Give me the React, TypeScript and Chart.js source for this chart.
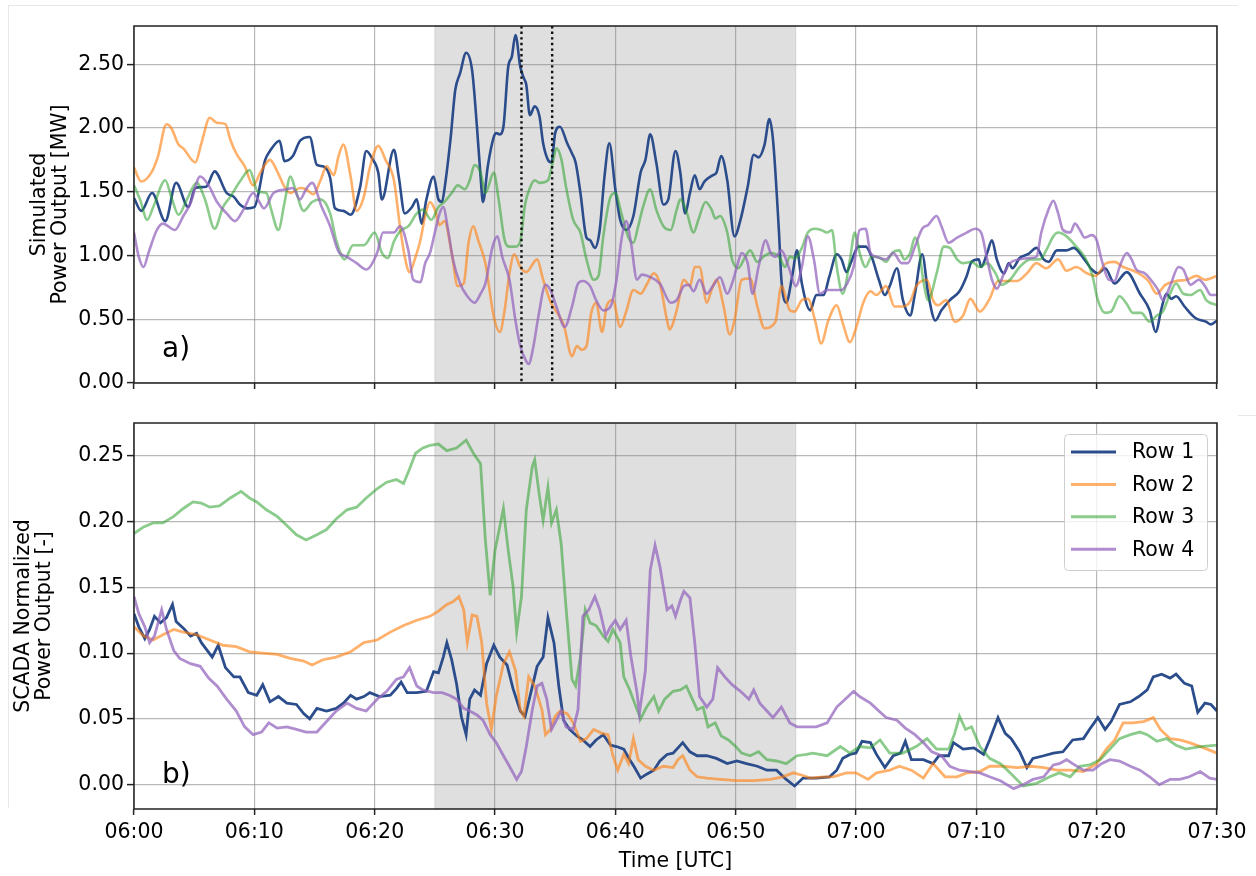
import React, { useEffect, useRef } from 'react';
import { Chart, registerables } from 'chart.js';

Chart.register(...registerables);

type Pt = [number, number]; // [minutes after 06:00, value]

// ---------- axis definitions ----------
const xTickMinutes = [0, 10, 20, 30, 40, 50, 60, 70, 80, 90];
const xTickLabels = ['06:00', '06:10', '06:20', '06:30', '06:40', '06:50', '07:00', '07:10', '07:20', '07:30'];
const simTicks = [0, 0.5, 1.0, 1.5, 2.0, 2.5];
const scadaTicks = [0, 0.05, 0.1, 0.15, 0.2, 0.25];
const simRange = [0, 2.8];
const scadaRange = [-0.0185, 0.275];
const shadeWindow = [25, 55];
const markerTimes = [32.2, 34.75];
const seriesNames = ['Row 1', 'Row 2', 'Row 3', 'Row 4'];

// ---------- panel a) simulated power output [MW] ----------
const row1Sim: Pt[] = [
  [0, 1.45], [0.6, 1.35], [1.5, 1.49], [2.6, 1.27], [3.5, 1.57], [4.5, 1.38], [5.1, 1.53], [6.0, 1.54], [6.7, 1.66], [7.7, 1.49],
  [8.3, 1.46], [8.8, 1.40], [9.4, 1.37], [10.0, 1.38], [10.9, 1.75], [11.3, 1.82], [12.1, 1.90], [12.5, 1.74], [13.2, 1.78], [13.8, 1.90],
  [14.6, 1.93], [15.2, 1.71], [15.7, 1.70], [16.3, 1.61], [16.7, 1.37], [17.4, 1.35], [18.0, 1.32], [18.8, 1.54], [19.3, 1.82], [19.8, 1.76],
  [20.3, 1.65], [20.6, 1.44], [21.6, 1.83], [22.0, 1.62], [22.5, 1.33], [23.1, 1.38], [23.5, 1.44], [23.9, 1.25], [24.3, 1.44], [24.9, 1.62],
  [25.3, 1.44], [25.6, 1.42], [25.8, 1.52], [26.3, 1.91], [26.7, 2.30], [27.1, 2.43], [27.6, 2.59], [28.1, 2.45], [28.5, 2.01], [28.8, 1.62],
  [29.0, 1.42], [29.4, 1.70], [29.9, 1.93], [30.1, 1.96], [30.4, 1.95], [30.7, 2.01], [31.1, 2.48], [31.4, 2.56], [31.7, 2.73], [32.1, 2.48],
  [32.4, 2.39], [32.6, 2.34], [32.9, 2.10], [33.3, 2.17], [33.7, 2.09], [34.0, 1.88], [34.4, 1.75], [34.7, 1.73], [35.0, 1.96], [35.4, 2.01],
  [36.0, 1.88], [36.4, 1.80], [36.7, 1.73], [37.1, 1.49], [37.6, 1.14], [37.9, 1.12], [38.3, 1.06], [38.7, 1.20], [39.1, 1.62], [39.5, 1.88],
  [40.0, 1.52], [40.4, 1.28], [40.9, 1.20], [41.5, 1.31], [42.1, 1.65], [42.5, 1.75], [42.9, 1.95], [43.4, 1.73], [44.0, 1.40], [44.4, 1.44],
  [45.0, 1.82], [45.4, 1.65], [45.8, 1.33], [46.2, 1.49], [46.6, 1.63], [47.0, 1.52], [47.4, 1.58], [48.1, 1.63], [48.4, 1.65], [48.8, 1.78],
  [49.3, 1.59], [49.9, 1.15], [50.4, 1.28], [51.0, 1.54], [51.5, 1.79], [51.9, 1.77], [52.4, 1.87], [52.8, 2.07], [53.1, 1.91], [53.6, 1.18],
  [53.8, 0.81], [54.2, 0.63], [54.7, 0.84], [55.1, 1.04], [55.5, 0.78], [56.2, 0.57], [56.7, 0.69], [57.3, 0.69], [57.8, 0.84], [58.4, 1.01],
  [58.8, 0.97], [59.2, 0.87], [59.6, 0.95], [60.2, 1.07], [60.8, 1.07], [61.3, 0.99], [61.9, 0.81], [62.4, 0.69], [62.8, 0.76], [63.4, 0.90],
  [63.9, 0.65], [64.5, 0.53], [64.9, 0.70], [65.5, 1.01], [66.0, 0.70], [66.6, 0.49], [67.1, 0.57], [67.8, 0.65], [68.6, 0.72], [69.2, 0.84],
  [69.6, 0.95], [70.2, 0.97], [70.4, 0.91], [70.9, 1.02], [71.3, 1.12], [71.7, 0.97], [72.3, 0.86], [72.7, 0.94], [73.0, 0.90], [73.6, 0.98],
  [74.3, 1.01], [75.0, 1.06], [75.6, 0.97], [76.0, 0.95], [76.7, 1.04], [77.5, 1.04], [78.1, 1.06], [78.9, 0.98], [79.6, 0.89], [80.1, 0.86],
  [80.7, 0.90], [81.5, 0.78], [82.5, 0.87], [83.6, 0.70], [84.4, 0.57], [84.9, 0.40], [85.4, 0.59], [85.8, 0.70], [86.2, 0.66], [86.6, 0.68],
  [87.3, 0.60], [88.2, 0.51], [89.1, 0.48], [89.5, 0.46], [90, 0.49],
];

const row2Sim: Pt[] = [
  [0, 1.69], [0.6, 1.58], [1.5, 1.66], [2.0, 1.78], [2.7, 2.03], [3.1, 2.00], [3.7, 1.87], [4.1, 1.84], [5.1, 1.73], [5.6, 1.88],
  [6.3, 2.08], [6.9, 2.04], [7.6, 2.03], [8.0, 1.91], [8.5, 1.80], [9.2, 1.70], [9.9, 1.55], [10.5, 1.65], [11.3, 1.75], [11.9, 1.66],
  [12.5, 1.54], [13.0, 1.49], [13.8, 1.53], [14.3, 1.52], [14.9, 1.48], [15.5, 1.59], [16.0, 1.70], [16.6, 1.63], [17.0, 1.78], [17.4, 1.87],
  [18.0, 1.62], [18.5, 1.35], [19.1, 1.46], [19.6, 1.69], [20.3, 1.86], [20.9, 1.75], [21.6, 1.59], [22.1, 1.23], [22.5, 0.99], [22.9, 0.87],
  [23.4, 0.99], [23.8, 1.12], [24.2, 1.31], [24.6, 1.42], [25.0, 1.36], [25.4, 1.24], [25.8, 1.27], [26.4, 1.02], [26.9, 0.76], [27.4, 0.78],
  [27.8, 1.10], [28.2, 1.23], [28.6, 1.12], [29.2, 0.94], [29.9, 0.52], [30.4, 0.40], [30.8, 0.57], [31.2, 0.86], [31.6, 1.01], [32.1, 0.91],
  [32.6, 0.87], [33.5, 0.97], [34.0, 0.81], [34.6, 0.64], [35.1, 0.56], [35.7, 0.46], [36.4, 0.21], [36.8, 0.29], [37.2, 0.26], [37.6, 0.29],
  [38.0, 0.55], [38.4, 0.63], [38.9, 0.40], [39.3, 0.61], [39.8, 0.65], [40.4, 0.44], [40.9, 0.56], [41.5, 0.73], [42.1, 0.70], [42.6, 0.77],
  [43.2, 0.86], [43.7, 0.78], [44.3, 0.49], [44.5, 0.42], [45.1, 0.57], [45.7, 0.81], [46.2, 0.76], [46.6, 0.91], [47.0, 0.91], [47.6, 0.63],
  [48.0, 0.73], [48.4, 0.81], [49.0, 0.60], [49.5, 0.38], [49.9, 0.49], [50.5, 0.81], [51.2, 0.82], [51.8, 0.60], [52.4, 0.43], [53.3, 0.48],
  [53.8, 0.76], [54.5, 0.57], [54.9, 0.56], [55.5, 0.65], [56.0, 0.66], [56.6, 0.49], [57.1, 0.31], [57.7, 0.49], [58.4, 0.61], [58.9, 0.47],
  [59.5, 0.32], [60.0, 0.43], [60.6, 0.63], [61.2, 0.72], [61.7, 0.69], [62.5, 0.76], [63.2, 0.60], [63.9, 0.60], [64.5, 0.64], [65.0, 0.76],
  [65.9, 0.81], [66.4, 0.65], [66.8, 0.61], [67.5, 0.65], [68.2, 0.48], [68.9, 0.53], [69.5, 0.66], [70.3, 0.56], [71.1, 0.66], [71.8, 0.80],
  [72.5, 0.80], [73.4, 0.80], [74.2, 0.86], [75.0, 0.94], [75.8, 0.90], [76.8, 0.97], [77.5, 0.88], [78.3, 0.91], [79.2, 0.86], [79.9, 0.84],
  [80.8, 0.94], [81.5, 0.95], [82.2, 0.91], [83.3, 0.87], [84.3, 0.80], [85.0, 0.70], [85.7, 0.77], [86.6, 0.80], [87.5, 0.81], [88.3, 0.84],
  [89.0, 0.81], [90, 0.84],
];

const row3Sim: Pt[] = [
  [0, 1.55], [0.5, 1.44], [1.1, 1.28], [1.6, 1.38], [2.6, 1.59], [3.1, 1.46], [3.7, 1.32], [4.4, 1.44], [5.2, 1.57], [5.9, 1.44],
  [6.7, 1.21], [7.4, 1.38], [8.0, 1.46], [8.8, 1.58], [9.6, 1.67], [10.3, 1.50], [11.0, 1.49], [11.4, 1.36], [12.0, 1.20], [12.5, 1.41],
  [13.0, 1.62], [13.4, 1.52], [14.1, 1.35], [14.8, 1.42], [15.5, 1.44], [16.3, 1.33], [16.8, 1.12], [17.5, 0.97], [18.2, 1.08], [19.1, 1.08],
  [20.0, 1.18], [20.6, 1.02], [21.1, 0.98], [21.6, 1.11], [22.1, 1.19], [22.8, 1.23], [23.5, 1.33], [24.0, 1.36], [24.7, 1.28], [25.3, 1.38],
  [25.8, 1.42], [26.4, 1.49], [26.9, 1.55], [27.5, 1.52], [27.9, 1.59], [28.3, 1.71], [28.8, 1.65], [29.2, 1.49], [29.9, 1.65], [30.3, 1.44],
  [30.8, 1.12], [31.2, 1.07], [31.7, 1.07], [32.1, 1.11], [32.5, 1.40], [32.9, 1.53], [33.3, 1.59], [33.7, 1.57], [34.4, 1.59], [34.8, 1.73],
  [35.1, 1.84], [35.5, 1.76], [35.9, 1.54], [36.5, 1.28], [37.1, 1.18], [37.6, 0.97], [38.2, 0.81], [38.6, 0.84], [39.0, 1.15], [39.6, 1.46],
  [40.0, 1.49], [40.5, 1.33], [41.1, 1.14], [41.5, 1.10], [41.9, 1.23], [42.3, 1.38], [42.9, 1.52], [43.4, 1.36], [44.0, 1.23], [44.6, 1.20],
  [45.1, 1.36], [45.4, 1.44], [45.9, 1.35], [46.5, 1.18], [46.9, 1.28], [47.5, 1.42], [48.0, 1.36], [48.3, 1.29], [48.7, 1.31], [49.3, 1.18],
  [49.7, 0.97], [50.2, 0.90], [50.8, 0.99], [51.2, 1.04], [51.8, 0.95], [52.3, 0.99], [52.9, 1.02], [53.6, 0.99], [54.1, 0.91], [54.5, 0.99],
  [55.0, 0.98], [55.5, 1.06], [56.0, 1.18], [56.6, 1.21], [57.1, 1.20], [57.6, 1.18], [58.0, 1.20], [58.4, 0.91], [58.9, 0.70], [59.5, 0.97],
  [59.9, 1.18], [60.3, 1.02], [60.8, 0.91], [61.3, 0.99], [62.0, 0.98], [62.5, 0.95], [63.0, 1.02], [63.6, 1.04], [64.0, 0.97], [64.5, 1.02],
  [64.9, 1.14], [65.2, 1.07], [65.6, 0.80], [66.0, 0.65], [66.7, 0.86], [67.3, 1.07], [67.8, 1.06], [68.4, 0.97], [68.9, 0.94], [69.6, 0.95],
  [70.3, 0.91], [70.9, 0.94], [71.6, 0.86], [72.1, 0.77], [72.8, 0.81], [73.6, 0.91], [74.5, 0.97], [75.3, 0.97], [75.8, 1.04], [76.4, 1.15],
  [76.8, 1.18], [77.5, 1.15], [78.3, 1.07], [79.0, 0.99], [79.6, 0.86], [80.1, 0.65], [80.7, 0.55], [81.2, 0.56], [81.9, 0.68], [82.5, 0.62],
  [83.0, 0.55], [83.7, 0.55], [84.4, 0.48], [85.0, 0.53], [85.5, 0.56], [86.1, 0.70], [86.6, 0.78], [87.2, 0.70], [87.8, 0.69], [88.6, 0.73],
  [89.1, 0.65], [90, 0.61],
];

const row4Sim: Pt[] = [
  [0, 1.18], [0.4, 0.99], [0.8, 0.91], [1.2, 1.02], [1.9, 1.20], [2.4, 1.25], [3.4, 1.20], [4.1, 1.31], [4.7, 1.41], [5.5, 1.62],
  [6.2, 1.55], [6.9, 1.42], [7.7, 1.33], [8.4, 1.27], [9.1, 1.36], [9.9, 1.49], [10.3, 1.44], [10.8, 1.37], [11.6, 1.49], [12.7, 1.52],
  [13.2, 1.53], [13.8, 1.44], [14.3, 1.52], [14.8, 1.57], [15.6, 1.38], [16.3, 1.23], [17.0, 1.03], [17.7, 0.99], [18.5, 0.94], [19.3, 0.89],
  [20.2, 1.02], [20.7, 1.18], [21.6, 1.18], [22.1, 1.23], [22.8, 1.04], [23.2, 0.81], [23.8, 0.79], [24.2, 0.94], [24.6, 1.02], [25.0, 1.18],
  [25.4, 1.33], [25.7, 1.38], [26.1, 1.20], [26.5, 0.97], [27.1, 0.78], [27.7, 0.68], [28.3, 0.63], [28.8, 0.70], [29.2, 0.78], [29.8, 1.07],
  [30.2, 1.15], [30.6, 0.99], [31.2, 0.81], [31.7, 0.49], [32.1, 0.29], [32.5, 0.19], [32.8, 0.15], [33.2, 0.29], [33.6, 0.52], [34.2, 0.77],
  [34.6, 0.73], [35.1, 0.60], [35.8, 0.44], [36.4, 0.60], [36.9, 0.78], [37.3, 0.80], [37.9, 0.76], [38.4, 0.65], [39.0, 0.57], [39.6, 0.60],
  [40.1, 0.81], [40.5, 1.12], [40.9, 1.27], [41.3, 1.10], [41.8, 0.81], [42.2, 0.85], [42.9, 0.83], [43.7, 0.78], [44.6, 0.63], [45.1, 0.65],
  [45.7, 0.76], [46.1, 0.77], [46.5, 0.72], [47.0, 0.81], [47.6, 0.70], [48.1, 0.76], [48.7, 0.83], [49.3, 0.70], [49.7, 0.78], [50.1, 0.91],
  [50.5, 1.02], [51.0, 0.94], [51.4, 0.70], [51.9, 0.91], [52.5, 1.12], [52.9, 1.02], [53.3, 0.99], [53.8, 1.04], [54.4, 0.91], [55.0, 0.76],
  [55.5, 0.91], [56.0, 1.15], [56.5, 0.97], [57.0, 0.70], [57.6, 0.73], [58.3, 0.73], [58.8, 0.73], [59.2, 0.77], [59.8, 0.91], [60.3, 1.20],
  [60.8, 1.21], [61.2, 1.02], [61.7, 0.99], [62.5, 0.97], [63.1, 1.02], [63.8, 0.94], [64.3, 0.94], [64.9, 1.07], [65.5, 1.21], [66.0, 1.24],
  [66.7, 1.31], [67.1, 1.23], [67.7, 1.10], [68.4, 1.14], [69.2, 1.18], [69.9, 1.21], [70.4, 1.18], [70.9, 0.97], [71.3, 0.81], [71.7, 0.74],
  [72.3, 0.86], [72.8, 0.94], [73.6, 0.97], [74.5, 0.98], [75.0, 0.99], [75.4, 1.18], [76.0, 1.36], [76.4, 1.43], [76.8, 1.33], [77.2, 1.20],
  [77.8, 1.18], [78.2, 1.25], [78.6, 1.20], [79.0, 1.14], [79.6, 1.16], [80.0, 1.12], [80.4, 0.97], [81.0, 0.81], [81.5, 0.80], [81.9, 0.91],
  [82.5, 1.02], [82.9, 0.97], [83.3, 0.89], [84.0, 0.86], [84.5, 0.81], [85.1, 0.73], [85.5, 0.65], [86.1, 0.76], [86.8, 0.91], [87.2, 0.89],
  [87.8, 0.77], [88.5, 0.81], [89.0, 0.76], [89.5, 0.69], [90, 0.69],
];

// ---------- panel b) SCADA normalized power output [-] ----------
const row1Scada: Pt[] = [
  [0, 0.130], [0.4, 0.120], [0.9, 0.111], [1.3, 0.118], [1.7, 0.128], [2.2, 0.123], [2.7, 0.127], [3.2, 0.137], [3.5, 0.124], [4.1, 0.119],
  [4.7, 0.113], [5.2, 0.115], [5.6, 0.108], [6.5, 0.097], [7.0, 0.106], [7.6, 0.089], [8.3, 0.082], [8.8, 0.082], [9.5, 0.070], [10.2, 0.068],
  [10.7, 0.076], [11.3, 0.063], [12.0, 0.067], [12.7, 0.062], [13.5, 0.061], [14.1, 0.054], [14.6, 0.050], [15.2, 0.058], [16.0, 0.056], [16.8, 0.058],
  [17.4, 0.062], [18.0, 0.068], [18.5, 0.065], [19.1, 0.067], [19.6, 0.070], [20.4, 0.067], [21.3, 0.068], [21.8, 0.073], [22.2, 0.078], [22.7, 0.070],
  [23.5, 0.070], [24.3, 0.071], [24.9, 0.086], [25.3, 0.085], [25.7, 0.097], [26.0, 0.108], [26.4, 0.095], [26.8, 0.077], [27.2, 0.052], [27.6, 0.038],
  [27.9, 0.065], [28.3, 0.072], [28.8, 0.068], [29.3, 0.092], [29.9, 0.106], [30.4, 0.097], [31.0, 0.091], [31.5, 0.073], [32.1, 0.056], [32.5, 0.052],
  [32.9, 0.067], [33.5, 0.090], [34.0, 0.097], [34.4, 0.127], [34.9, 0.108], [35.3, 0.075], [35.7, 0.049], [36.2, 0.042], [36.8, 0.037], [37.3, 0.034],
  [37.9, 0.029], [38.4, 0.034], [39.0, 0.038], [39.6, 0.030], [40.1, 0.029], [40.7, 0.027], [41.2, 0.019], [41.6, 0.013], [42.1, 0.005], [42.6, 0.008],
  [43.2, 0.011], [43.7, 0.018], [44.3, 0.023], [44.8, 0.024], [45.6, 0.032], [46.2, 0.025], [46.8, 0.022], [47.6, 0.022], [48.4, 0.020], [49.3, 0.016],
  [50.1, 0.018], [50.9, 0.016], [51.8, 0.014], [52.6, 0.011], [53.4, 0.011], [54.2, 0.004], [54.9, -0.001], [55.6, 0.005], [56.7, 0.005], [57.8, 0.006],
  [58.4, 0.011], [58.9, 0.020], [59.5, 0.023], [60.0, 0.024], [60.5, 0.033], [61.2, 0.032], [61.7, 0.023], [62.4, 0.013], [63.1, 0.022], [63.7, 0.024],
  [64.1, 0.033], [64.6, 0.019], [65.6, 0.019], [66.4, 0.016], [66.9, 0.022], [67.7, 0.022], [68.1, 0.032], [68.9, 0.027], [69.8, 0.028], [70.6, 0.023],
  [71.1, 0.034], [71.8, 0.051], [72.4, 0.039], [72.9, 0.035], [73.6, 0.025], [74.2, 0.013], [74.7, 0.020], [75.6, 0.022], [76.4, 0.024], [77.2, 0.025],
  [78.0, 0.034], [78.9, 0.035], [79.4, 0.042], [80.1, 0.051], [80.7, 0.042], [81.2, 0.048], [81.9, 0.061], [82.8, 0.063], [83.5, 0.067], [84.2, 0.072],
  [84.7, 0.082], [85.4, 0.084], [86.1, 0.081], [86.6, 0.084], [87.3, 0.077], [87.9, 0.075], [88.4, 0.055], [89.0, 0.062], [89.5, 0.061], [90, 0.056],
];

const row2Scada: Pt[] = [
  [0, 0.120], [0.8, 0.113], [1.6, 0.110], [2.4, 0.114], [3.3, 0.118], [4.1, 0.116], [5.2, 0.114], [6.3, 0.110], [7.4, 0.106], [8.5, 0.105],
  [9.6, 0.101], [10.7, 0.100], [11.9, 0.099], [13.0, 0.096], [14.1, 0.094], [14.8, 0.091], [15.7, 0.095], [16.8, 0.097], [18.0, 0.101], [19.1, 0.108],
  [20.2, 0.110], [21.3, 0.116], [22.4, 0.121], [23.5, 0.125], [24.6, 0.128], [25.3, 0.132], [26.0, 0.137], [26.5, 0.139], [27.0, 0.143], [27.4, 0.133],
  [27.7, 0.108], [28.1, 0.129], [28.5, 0.128], [28.9, 0.108], [29.3, 0.062], [29.7, 0.042], [30.1, 0.067], [30.7, 0.092], [31.2, 0.101], [31.7, 0.087],
  [32.1, 0.057], [32.4, 0.052], [32.8, 0.082], [33.3, 0.075], [33.9, 0.057], [34.2, 0.038], [34.6, 0.042], [35.0, 0.052], [35.4, 0.056], [36.0, 0.054],
  [36.5, 0.047], [37.1, 0.033], [37.6, 0.035], [38.2, 0.042], [38.9, 0.039], [39.4, 0.038], [39.8, 0.022], [40.2, 0.011], [40.7, 0.023], [41.1, 0.016],
  [41.5, 0.035], [41.9, 0.019], [42.5, 0.014], [43.2, 0.011], [44.0, 0.014], [44.8, 0.013], [45.2, 0.019], [45.6, 0.022], [46.2, 0.011], [46.8, 0.006],
  [47.6, 0.005], [48.7, 0.004], [50.1, 0.003], [51.5, 0.003], [52.9, 0.004], [53.9, 0.006], [54.8, 0.009], [55.6, 0.007], [56.2, 0.005], [57.3, 0.006],
  [58.1, 0.006], [59.2, 0.009], [60.0, 0.009], [61.0, 0.004], [61.7, 0.009], [62.8, 0.011], [63.6, 0.014], [64.6, 0.011], [65.6, 0.005], [66.4, 0.016],
  [67.4, 0.006], [68.4, 0.006], [69.2, 0.009], [70.3, 0.010], [71.1, 0.014], [72.2, 0.014], [73.4, 0.013], [74.5, 0.014], [75.6, 0.013], [76.7, 0.011],
  [77.8, 0.011], [78.9, 0.010], [80.0, 0.016], [80.8, 0.027], [81.5, 0.034], [82.2, 0.047], [83.0, 0.047], [83.9, 0.048], [84.7, 0.051], [85.3, 0.042],
  [86.1, 0.035], [86.9, 0.034], [87.7, 0.032], [88.9, 0.028], [90, 0.024],
];

const row3Scada: Pt[] = [
  [0, 0.191], [0.8, 0.196], [1.6, 0.199], [2.4, 0.199], [3.3, 0.204], [4.1, 0.210], [4.9, 0.215], [5.6, 0.214], [6.3, 0.211], [7.1, 0.212],
  [8.0, 0.218], [8.9, 0.223], [9.6, 0.218], [10.2, 0.215], [11.0, 0.209], [11.9, 0.204], [12.7, 0.197], [13.5, 0.190], [14.3, 0.186], [15.2, 0.190],
  [16.0, 0.194], [16.8, 0.202], [17.7, 0.209], [18.5, 0.211], [19.3, 0.218], [20.2, 0.225], [21.0, 0.230], [21.8, 0.232], [22.4, 0.229], [22.9, 0.240],
  [23.4, 0.252], [24.0, 0.256], [24.6, 0.258], [25.3, 0.259], [26.0, 0.254], [26.8, 0.256], [27.6, 0.262], [28.2, 0.252], [28.8, 0.244], [29.2, 0.186],
  [29.6, 0.144], [30.0, 0.178], [30.7, 0.210], [31.1, 0.178], [31.5, 0.151], [31.8, 0.116], [32.2, 0.143], [32.6, 0.209], [33.1, 0.242], [33.3, 0.247],
  [33.7, 0.219], [34.0, 0.201], [34.4, 0.226], [34.7, 0.199], [35.1, 0.209], [35.5, 0.183], [35.9, 0.135], [36.4, 0.080], [36.7, 0.075], [37.1, 0.097],
  [37.5, 0.133], [37.9, 0.123], [38.4, 0.121], [39.0, 0.113], [39.4, 0.109], [39.8, 0.118], [40.4, 0.108], [40.7, 0.082], [41.2, 0.072], [41.6, 0.062],
  [42.1, 0.050], [42.6, 0.059], [43.2, 0.067], [43.6, 0.056], [44.1, 0.065], [44.8, 0.071], [45.4, 0.072], [45.9, 0.075], [46.3, 0.067], [46.8, 0.057],
  [47.3, 0.059], [47.7, 0.044], [48.3, 0.047], [48.8, 0.037], [49.4, 0.034], [50.0, 0.029], [50.5, 0.024], [51.2, 0.022], [51.9, 0.025], [52.6, 0.019],
  [53.4, 0.018], [54.2, 0.016], [55.1, 0.022], [55.9, 0.023], [56.4, 0.024], [57.6, 0.022], [58.7, 0.029], [59.5, 0.024], [60.3, 0.029], [61.2, 0.028],
  [62.0, 0.034], [62.8, 0.024], [63.9, 0.024], [65.0, 0.029], [65.9, 0.035], [66.7, 0.027], [67.7, 0.027], [68.2, 0.039], [68.6, 0.052], [69.1, 0.042],
  [69.6, 0.044], [70.3, 0.029], [71.1, 0.020], [72.0, 0.016], [72.8, 0.009], [73.9, -0.001], [75.0, 0.001], [76.1, 0.006], [76.9, 0.009], [77.8, 0.006],
  [78.6, 0.014], [79.4, 0.015], [80.3, 0.019], [81.1, 0.027], [81.9, 0.035], [82.8, 0.038], [83.6, 0.040], [84.2, 0.038], [85.0, 0.033], [85.8, 0.035],
  [86.6, 0.030], [87.4, 0.027], [88.6, 0.029], [90, 0.030],
];

const row4Scada: Pt[] = [
  [0, 0.143], [0.4, 0.130], [0.9, 0.120], [1.3, 0.108], [1.7, 0.113], [2.3, 0.133], [2.7, 0.118], [3.3, 0.102], [3.8, 0.096], [4.7, 0.092],
  [5.5, 0.090], [6.2, 0.081], [6.9, 0.075], [7.7, 0.065], [8.5, 0.056], [9.2, 0.044], [9.9, 0.038], [10.6, 0.040], [11.2, 0.047], [11.9, 0.043],
  [12.7, 0.044], [13.5, 0.042], [14.3, 0.040], [15.2, 0.040], [16.0, 0.048], [16.8, 0.056], [17.7, 0.062], [18.5, 0.058], [19.3, 0.056], [20.2, 0.065],
  [21.0, 0.071], [21.8, 0.080], [22.4, 0.082], [22.9, 0.089], [23.5, 0.075], [24.0, 0.072], [24.9, 0.070], [25.6, 0.070], [26.2, 0.068], [26.8, 0.065],
  [27.4, 0.058], [27.9, 0.056], [28.5, 0.053], [29.0, 0.049], [29.6, 0.038], [30.1, 0.032], [30.7, 0.022], [31.2, 0.014], [31.8, 0.004], [32.2, 0.010],
  [32.6, 0.029], [33.1, 0.057], [33.5, 0.075], [33.9, 0.077], [34.3, 0.065], [34.7, 0.042], [35.1, 0.049], [35.5, 0.056], [35.9, 0.044], [36.5, 0.042],
  [36.9, 0.057], [37.3, 0.128], [37.8, 0.133], [38.3, 0.143], [38.7, 0.133], [39.2, 0.113], [39.6, 0.120], [40.0, 0.125], [40.4, 0.118], [40.9, 0.125],
  [41.3, 0.097], [41.8, 0.070], [42.0, 0.054], [42.5, 0.087], [42.9, 0.163], [43.3, 0.182], [43.7, 0.166], [44.3, 0.133], [44.7, 0.136], [45.0, 0.128],
  [45.4, 0.140], [45.7, 0.147], [46.2, 0.142], [46.6, 0.108], [47.0, 0.067], [47.6, 0.059], [48.1, 0.065], [48.5, 0.089], [49.1, 0.082], [49.7, 0.076],
  [50.4, 0.071], [51.1, 0.065], [51.5, 0.072], [52.0, 0.062], [52.6, 0.056], [53.1, 0.051], [53.8, 0.059], [54.5, 0.047], [55.1, 0.044], [55.9, 0.044],
  [56.7, 0.044], [57.6, 0.047], [58.4, 0.059], [59.1, 0.065], [59.8, 0.071], [60.3, 0.067], [61.2, 0.062], [61.9, 0.056], [62.5, 0.051], [63.4, 0.049],
  [64.1, 0.043], [64.9, 0.038], [65.6, 0.032], [66.3, 0.025], [67.1, 0.022], [67.8, 0.014], [68.6, 0.011], [69.5, 0.010], [70.3, 0.009], [71.1, 0.006],
  [72.0, 0.003], [73.1, -0.003], [73.9, 0.000], [74.7, 0.004], [75.6, 0.006], [76.4, 0.015], [76.9, 0.016], [77.5, 0.019], [78.0, 0.016], [78.9, 0.011],
  [79.7, 0.011], [80.4, 0.016], [81.1, 0.019], [81.9, 0.018], [82.8, 0.014], [83.6, 0.011], [84.4, 0.006], [85.2, 0.000], [86.1, 0.004], [86.9, 0.004],
  [87.7, 0.006], [88.6, 0.010], [89.4, 0.005], [90, 0.004],
];

// ---------- styling ----------
const FONT = '"DejaVu Sans", "Liberation Sans", sans-serif';
const lineColors = ['#2c4d8c', 'rgba(255,127,14,0.62)', 'rgba(44,160,44,0.55)', 'rgba(148,103,189,0.75)'];
const GRID = 'rgba(128,128,128,0.55)';
const INK = '#222';
const CANVAS_W = 1256;
const PLOT_LEFT = 134;
const PLOT_RIGHT = 1217;
const TICK_SIZE = 20.5;
const TITLE_SIZE = 20.5;

function toXY(pts: Pt[]) {
  return pts.map(([x, y]) => ({ x, y }));
}

function makePanel(canvas: HTMLCanvasElement, p: any) {
  const H = canvas.height;
  const decor = {
    id: 'decor',
    beforeDraw(chart: any) {
      const { ctx, chartArea: a, scales } = chart;
      const x0 = scales.x.getPixelForValue(shadeWindow[0]);
      const x1 = scales.x.getPixelForValue(shadeWindow[1]);
      ctx.save();
      ctx.fillStyle = 'rgba(128,128,128,0.25)';
      ctx.fillRect(x0, a.top, x1 - x0, a.bottom - a.top);
      ctx.strokeStyle = 'rgba(128,128,128,0.22)';
      ctx.lineWidth = 1;
      ctx.strokeRect(x0, a.top, x1 - x0, a.bottom - a.top);
      ctx.restore();
    },
    afterDraw(chart: any) {
      const { ctx, chartArea: a, scales } = chart;
      ctx.save();
      if (p.markers) {
        ctx.strokeStyle = '#111';
        ctx.lineWidth = 2.4;
        ctx.setLineDash([2.4, 3.2]);
        for (const t of markerTimes) {
          const x = scales.x.getPixelForValue(t);
          ctx.beginPath();
          ctx.moveTo(x, a.top);
          ctx.lineTo(x, a.bottom);
          ctx.stroke();
        }
        ctx.setLineDash([]);
      }
      // frame
      ctx.strokeStyle = INK;
      ctx.lineWidth = 1.5;
      ctx.strokeRect(a.left, a.top, a.right - a.left, a.bottom - a.top);
      // panel label
      ctx.fillStyle = '#000';
      ctx.font = '28px ' + FONT;
      ctx.textAlign = 'left';
      ctx.textBaseline = 'alphabetic';
      ctx.fillText(p.label, a.left + 28, a.bottom - 26);
      // legend
      if (p.legend) {
        const bx = 1064, by = a.top + 11, bw = 143, bh = 136;
        ctx.fillStyle = 'rgba(255,255,255,0.8)';
        ctx.strokeStyle = '#cfcfcf';
        ctx.lineWidth = 1;
        ctx.beginPath();
        if ((ctx as any).roundRect) (ctx as any).roundRect(bx + 0.5, by + 0.5, bw, bh, 4);
        else ctx.rect(bx + 0.5, by + 0.5, bw, bh);
        ctx.fill();
        ctx.stroke();
        ctx.font = TICK_SIZE + 'px ' + FONT;
        ctx.textBaseline = 'middle';
        seriesNames.forEach((name, i) => {
          const y = by + 18 + i * 32.4;
          ctx.strokeStyle = lineColors[i];
          ctx.lineWidth = 3;
          ctx.beginPath();
          ctx.moveTo(bx + 7, y);
          ctx.lineTo(bx + 52, y);
          ctx.stroke();
          ctx.fillStyle = '#000';
          ctx.fillText(name, bx + 68, y + 1);
        });
      }
      ctx.restore();
    },
  };

  const datasets = p.series.map((pts: Pt[], i: number) => ({
    label: seriesNames[i],
    data: toXY(pts),
    borderColor: lineColors[i],
    backgroundColor: lineColors[i],
    borderWidth: p.lineWidth,
    pointRadius: 0,
    pointHoverRadius: 0,
    fill: false,
    tension: p.smooth ? 0.35 : 0,
    cubicInterpolationMode: p.smooth ? 'monotone' : 'default',
    order: 4 - i,
  }));

  return new Chart(canvas, {
    type: 'line',
    data: { datasets },
    plugins: [decor],
    options: {
      animation: false,
      responsive: false,
      maintainAspectRatio: false,
      events: [],
      layout: { padding: { left: 0, right: CANVAS_W - PLOT_RIGHT, top: p.top, bottom: 0 } },
      plugins: { legend: { display: false }, tooltip: { enabled: false } },
      scales: {
        x: {
          type: 'linear',
          min: 0,
          max: 90,
          afterBuildTicks: (s: any) => { s.ticks = xTickMinutes.map((v) => ({ value: v })); },
          afterFit: (s: any) => { s.height = H - p.bottom; },
          grid: { color: GRID, lineWidth: 1.2, drawTicks: true, tickLength: 6, tickColor: INK, tickWidth: 1.5 },
          border: { display: false },
          ticks: {
            display: p.xLabels,
            padding: 5.7,
            color: '#000',
            font: { family: FONT, size: TICK_SIZE },
            maxRotation: 0,
            autoSkip: false,
            callback: (_v: any, i: number) => xTickLabels[i],
          },
          title: {
            display: p.xLabels,
            text: 'Time [UTC]',
            color: '#000',
            font: { family: FONT, size: TITLE_SIZE, lineHeight: 1.1 },
            padding: { top: 0, bottom: 2.7 },
          },
        },
        y: {
          type: 'linear',
          min: p.range[0],
          max: p.range[1],
          afterBuildTicks: (s: any) => { s.ticks = p.ticks.map((v: number) => ({ value: v })); },
          afterFit: (s: any) => { s.width = PLOT_LEFT; },
          grid: { color: GRID, lineWidth: 1.2, drawTicks: true, tickLength: 7, tickColor: INK, tickWidth: 1.5 },
          border: { display: false },
          ticks: {
            padding: 3,
            color: '#000',
            font: { family: FONT, size: TICK_SIZE },
            callback: (v: any) => Number(v).toFixed(2),
          },
          title: {
            display: true,
            text: p.yTitle,
            color: '#000',
            font: { family: FONT, size: TITLE_SIZE, lineHeight: 1.05 },
            padding: { top: p.titlePad, bottom: 0 },
          },
        },
      },
    } as any,
  });
}

export default function App() {
  const topRef = useRef<HTMLCanvasElement>(null);
  const botRef = useRef<HTMLCanvasElement>(null);

  useEffect(() => {
    const charts: Chart[] = [];
    if (topRef.current) {
      charts.push(
        makePanel(topRef.current, {
          series: [row1Sim, row2Sim, row3Sim, row4Sim],
          range: simRange,
          ticks: simTicks,
          yTitle: ['Simulated', 'Power Output [MW]'],
          titlePad: 28.5,
          top: 26,
          bottom: 383,
          xLabels: false,
          markers: true,
          legend: false,
          label: 'a)',
          smooth: true,
          lineWidth: 2.6,
        })
      );
    }
    if (botRef.current) {
      charts.push(
        makePanel(botRef.current, {
          series: [row1Scada, row2Scada, row3Scada, row4Scada],
          range: scadaRange,
          ticks: scadaTicks,
          yTitle: ['SCADA Normalized', 'Power Output [-]'],
          titlePad: 12.5,
          top: 23,
          bottom: 409,
          xLabels: true,
          markers: false,
          legend: true,
          label: 'b)',
          smooth: false,
          lineWidth: 2.8,
        })
      );
    }
    return () => charts.forEach((c) => c.destroy());
  }, []);

  return (
    <div style={{ position: 'absolute', left: 0, top: 0, width: 1256, height: 876, background: '#fff', overflow: 'hidden' }}>
      <div style={{ position: 'absolute', left: 8, top: 5, width: 1230, height: 0, borderTop: '1px solid #e8e8e8' }} />
      <div style={{ position: 'absolute', left: 8, top: 5, width: 0, height: 803, borderLeft: '1px solid #e8e8e8' }} />
      <div style={{ position: 'absolute', left: 1238, top: 415, width: 18, height: 0, borderTop: '1px solid #e8e8e8' }} />
      <canvas ref={topRef} width={1256} height={400} style={{ position: 'absolute', left: 0, top: 0 }} />
      <canvas ref={botRef} width={1256} height={476} style={{ position: 'absolute', left: 0, top: 400 }} />
    </div>
  );
}
